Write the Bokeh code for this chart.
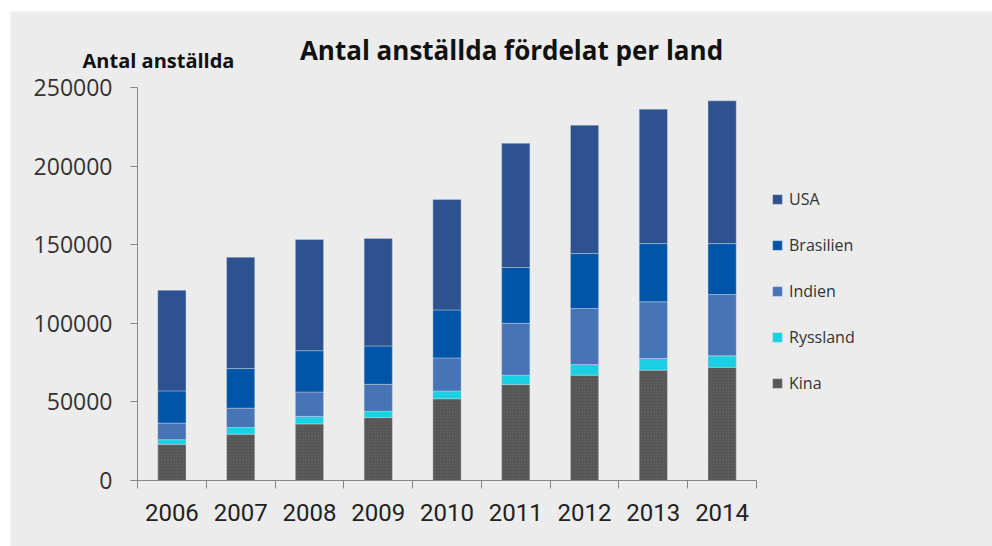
from bokeh.plotting import figure
from bokeh.models import (ColumnDataSource, Range1d, FixedTicker, BasicTickFormatter,
                          Legend, LegendItem, Label)
from bokeh.embed import file_html
from bokeh.resources import INLINE

years = ["2006", "2007", "2008", "2009", "2010", "2011", "2012", "2013", "2014"]
kina = [23000, 29500, 36000, 40000, 52000, 61000, 67000, 70200, 72000]
ryssland = [3000, 4200, 4800, 4000, 5000, 6000, 6800, 7400, 7300]
indien = [10500, 12300, 15500, 17200, 21000, 33000, 35600, 36100, 39000]
brasilien = [20500, 25200, 26300, 24400, 30500, 35500, 35000, 37000, 32400]
usa = [64000, 70800, 70700, 68400, 70300, 79000, 81600, 85500, 90800]
series_names = ["Kina", "Ryssland", "Indien", "Brasilien", "USA"]
series_colors = ["#555555", "#1CD0E4", "#4674B6", "#0055A8", "#2E528F"]
y_ticks = [0, 50000, 100000, 150000, 200000, 250000]
y_max = 250000
title_text = "Antal anställda fördelat per land"
y_title = "Antal anställda"

n = len(years)
xs = [i + 0.5 for i in range(n)]
source = ColumnDataSource(dict(x=xs, Kina=kina, Ryssland=ryssland, Indien=indien,
                               Brasilien=brasilien, USA=usa))

# layout (pixels): figure placed at page (10, 11); axis corner at (137, 480)
W, H = 982, 535
axis_left_px = 127          # from figure left to the y axis
axis_right_px = 746         # x axis end (from figure left)
axis_bottom_px = 469        # from figure top to the x axis
axis_top_px = 76            # from figure top to y = y_max
unit = (axis_right_px - axis_left_px) / n
x_start = -axis_left_px / unit
x_end = n + (W - axis_right_px) / unit
per_px = y_max / (axis_bottom_px - axis_top_px)
y_end = axis_bottom_px * per_px
y_start = -(H - axis_bottom_px) * per_px

BG = "#ececec"
p = figure(width=W, height=H, output_backend="svg", toolbar_location=None,
           x_range=Range1d(x_start, x_end), y_range=Range1d(y_start, y_end),
           background_fill_color=BG, border_fill_color=BG,
           min_border_left=0, min_border_right=0, min_border_top=0,
           min_border_bottom=0)
p.margin = (11, 0, 0, 10)
p.outline_line_color = None
p.grid.visible = False

renderers = p.vbar_stack(series_names, x="x", width=0.41, color=series_colors,
                         line_color="#d8dce4", line_alpha=0.5, line_width=0.8,
                         source=source)
kg = renderers[0].glyph
kg.hatch_pattern = "dot"
kg.hatch_color = "#6e6e6e"
kg.hatch_alpha = 0.6
kg.hatch_scale = 3
kg.hatch_weight = 1

axis_color = "#868686"
# x axis, drawn at y = 0 inside the plot area
xa = p.xaxis[0]
xa.fixed_location = 0
xa.bounds = (0, n)
xa.ticker = FixedTicker(ticks=xs, minor_ticks=list(range(n + 1)))
xa.major_label_overrides = {x: y for x, y in zip(xs, years)}
xa.major_tick_out = 0
xa.major_tick_in = 0
xa.minor_tick_out = 8
xa.minor_tick_in = 0
xa.minor_tick_line_color = axis_color
xa.axis_line_color = axis_color
xa.major_label_standoff = 15
xa.major_label_text_font = "Roboto"
xa.major_label_text_font_size = "24px"
xa.major_label_text_color = "#222222"

# y axis, drawn at x = 0 inside the plot area
ya = p.yaxis[0]
ya.fixed_location = 0
ya.bounds = (0, y_max)
ya.ticker = FixedTicker(ticks=y_ticks)
ya.formatter = BasicTickFormatter(use_scientific=False)
ya.major_tick_out = 7
ya.major_tick_in = 0
ya.minor_tick_line_color = None
ya.major_tick_line_color = axis_color
ya.axis_line_color = axis_color
ya.major_label_standoff = 18
ya.major_label_text_font = "Open Sans"
ya.major_label_text_font_size = "23px"
ya.major_label_text_color = "#333333"

# titles (screen units, relative to plot area bottom-left = page y 546)
p.add_layout(Label(x=501, y=497, x_units="screen", y_units="screen",
                   text=title_text, text_align="center", text_baseline="middle",
                   text_font="Open Sans", text_font_style="bold",
                   text_font_size="26px", text_color="#111111"))
p.add_layout(Label(x=148, y=486, x_units="screen", y_units="screen",
                   text=y_title, text_align="center", text_baseline="middle",
                   text_font="Open Sans", text_font_style="bold",
                   text_font_size="20px", text_color="#111111"))

# legend
order = [4, 3, 2, 1, 0]
legend = Legend(items=[LegendItem(label=series_names[i], renderers=[renderers[i]]) for i in order],
                location=(751, 76 + H - axis_bottom_px), orientation="vertical",
                glyph_width=12, glyph_height=12, label_height=20, spacing=24,
                padding=10, margin=0, label_standoff=6,
                label_text_font="Open Sans", label_text_font_size="16px",
                label_text_color="#333333",
                background_fill_alpha=0, border_line_alpha=0)
p.add_layout(legend, "center")

open("out.html", "w").write(file_html(p, INLINE))
